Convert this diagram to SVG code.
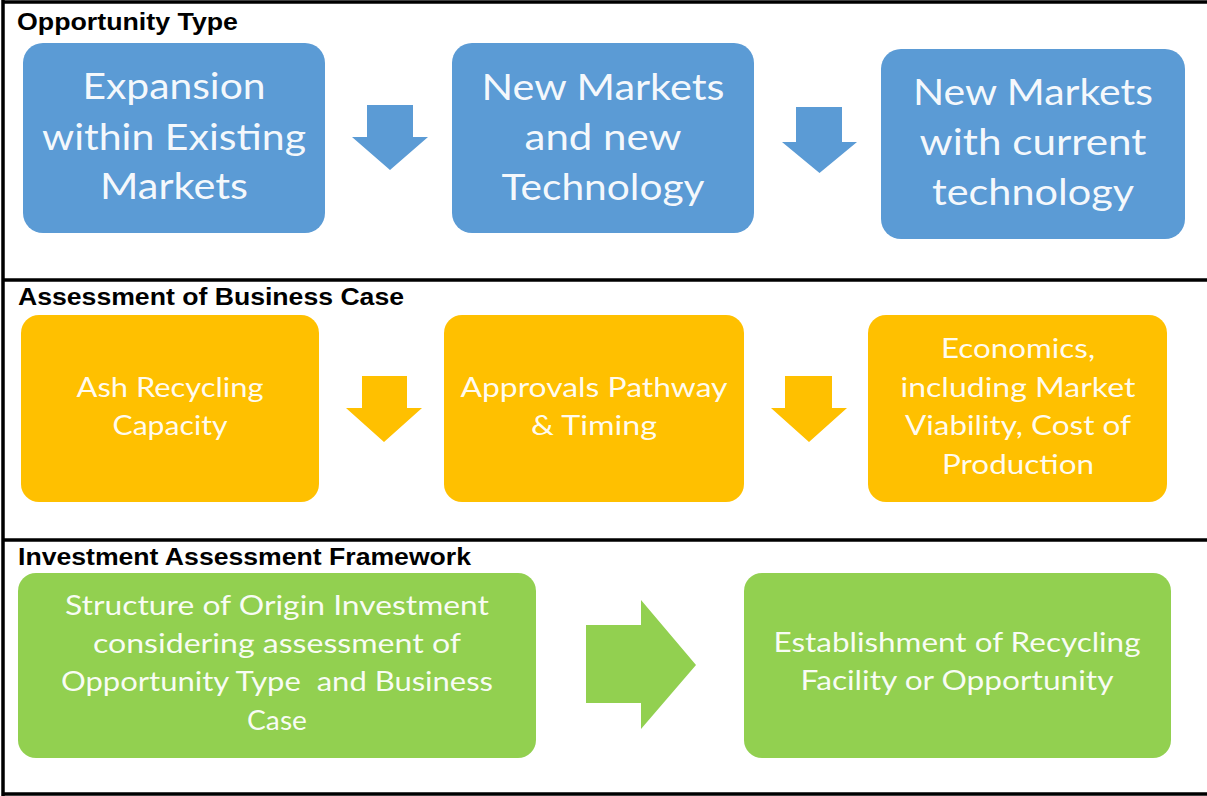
<svg xmlns="http://www.w3.org/2000/svg" width="1207" height="796" viewBox="0 0 1207 796">
<style>
.frame{stroke:#000;stroke-width:3.5;fill:none}
.title{font-family:"Liberation Sans",Arial,sans-serif;font-weight:bold;font-size:23px;fill:#000}
.lbl{font-family:Lato,"Open Sans",sans-serif;fill:#fff;fill-opacity:0.95;text-anchor:middle}
.big{font-size:36px}
.sm{font-size:27px}
.blue{fill:#5B9BD5}
.gold{fill:#FFC000}
.green{fill:#92D050}
</style>
<rect width="1207" height="796" fill="#fff"/>
<g id="frame">
<line class="frame" x1="3" y1="2" x2="1207" y2="2"/>
<line class="frame" x1="3" y1="0" x2="3" y2="796"/>
<line class="frame" x1="3" y1="280" x2="1207" y2="280"/>
<line class="frame" x1="3" y1="540" x2="1207" y2="540"/>
<line class="frame" x1="3" y1="794" x2="1207" y2="794"/>
</g>
<g id="section-titles">
<text class="title" x="17" y="30" textLength="221" lengthAdjust="spacingAndGlyphs">Opportunity Type</text>
<text class="title" x="18" y="305" textLength="386" lengthAdjust="spacingAndGlyphs">Assessment of Business Case</text>
<text class="title" x="18" y="565" textLength="453" lengthAdjust="spacingAndGlyphs">Investment Assessment Framework</text>
</g>
<g id="node-expansion">
<rect class="blue" x="23" y="43" width="302" height="190" rx="20"/>
<text class="lbl big" x="174" y="99" textLength="183" lengthAdjust="spacingAndGlyphs">Expansion</text>
<text class="lbl big" x="174" y="150" textLength="264" lengthAdjust="spacingAndGlyphs">within Existing</text>
<text class="lbl big" x="174" y="199" textLength="148" lengthAdjust="spacingAndGlyphs">Markets</text>
</g>
<g id="node-new-markets-new-tech">
<rect class="blue" x="452" y="43" width="302" height="190" rx="20"/>
<text class="lbl big" x="603" y="100" textLength="243" lengthAdjust="spacingAndGlyphs">New Markets</text>
<text class="lbl big" x="603" y="150" textLength="157" lengthAdjust="spacingAndGlyphs">and new</text>
<text class="lbl big" x="603" y="200" textLength="203" lengthAdjust="spacingAndGlyphs">Technology</text>
</g>
<g id="node-new-markets-current-tech">
<rect class="blue" x="881" y="49" width="304" height="190" rx="20"/>
<text class="lbl big" x="1033" y="105" textLength="240" lengthAdjust="spacingAndGlyphs">New Markets</text>
<text class="lbl big" x="1033" y="155" textLength="227" lengthAdjust="spacingAndGlyphs">with current</text>
<text class="lbl big" x="1033" y="205" textLength="202" lengthAdjust="spacingAndGlyphs">technology</text>
</g>
<g id="node-ash-recycling">
<rect class="gold" x="21" y="315" width="298" height="187" rx="18"/>
<text class="lbl sm" x="170" y="397" textLength="187" lengthAdjust="spacingAndGlyphs">Ash Recycling</text>
<text class="lbl sm" x="170" y="434.5" textLength="115" lengthAdjust="spacingAndGlyphs">Capacity</text>
</g>
<g id="node-approvals">
<rect class="gold" x="444" y="315" width="300" height="187" rx="18"/>
<text class="lbl sm" x="594" y="397" textLength="267" lengthAdjust="spacingAndGlyphs">Approvals Pathway</text>
<text class="lbl sm" x="594" y="435" textLength="126" lengthAdjust="spacingAndGlyphs">&amp; Timing</text>
</g>
<g id="node-economics">
<rect class="gold" x="868" y="315" width="299" height="187" rx="18"/>
<text class="lbl sm" x="1018" y="358" textLength="154" lengthAdjust="spacingAndGlyphs">Economics,</text>
<text class="lbl sm" x="1018" y="396.5" textLength="235" lengthAdjust="spacingAndGlyphs">including Market</text>
<text class="lbl sm" x="1018" y="435" textLength="226" lengthAdjust="spacingAndGlyphs">Viability, Cost of</text>
<text class="lbl sm" x="1018" y="474" textLength="152" lengthAdjust="spacingAndGlyphs">Production</text>
</g>
<g id="node-structure">
<rect class="green" x="18" y="573" width="518" height="185" rx="18"/>
<text class="lbl sm" x="277" y="615" textLength="424" lengthAdjust="spacingAndGlyphs">Structure of Origin Investment</text>
<text class="lbl sm" x="277" y="653" textLength="368" lengthAdjust="spacingAndGlyphs">considering assessment of</text>
<text class="lbl sm" x="277" y="691" textLength="432" lengthAdjust="spacingAndGlyphs" xml:space="preserve">Opportunity Type  and Business</text>
<text class="lbl sm" x="277" y="730" textLength="60" lengthAdjust="spacingAndGlyphs">Case</text>
</g>
<g id="node-establishment">
<rect class="green" x="744" y="573" width="427" height="185" rx="18"/>
<text class="lbl sm" x="957" y="652" textLength="367" lengthAdjust="spacingAndGlyphs">Establishment of Recycling</text>
<text class="lbl sm" x="957" y="690" textLength="313" lengthAdjust="spacingAndGlyphs">Facility or Opportunity</text>
</g>
<g id="connectors">
<polygon class="blue" points="367,105 413,105 413,137 428,137 390,170 352,137 367,137"/>
<polygon class="blue" points="796,107 842,107 842,142 857,142 819.5,173 782,142 796,142"/>
<polygon class="gold" points="362,376 407,376 407,408 422,408 384,442 346,408 362,408"/>
<polygon class="gold" points="785,376 832,376 832,408 847,408 809,442 771,408 785,408"/>
<polygon class="green" points="586,625 641,625 641,600 696,665 641,729 641,703 586,703"/>
</g>
</svg>
